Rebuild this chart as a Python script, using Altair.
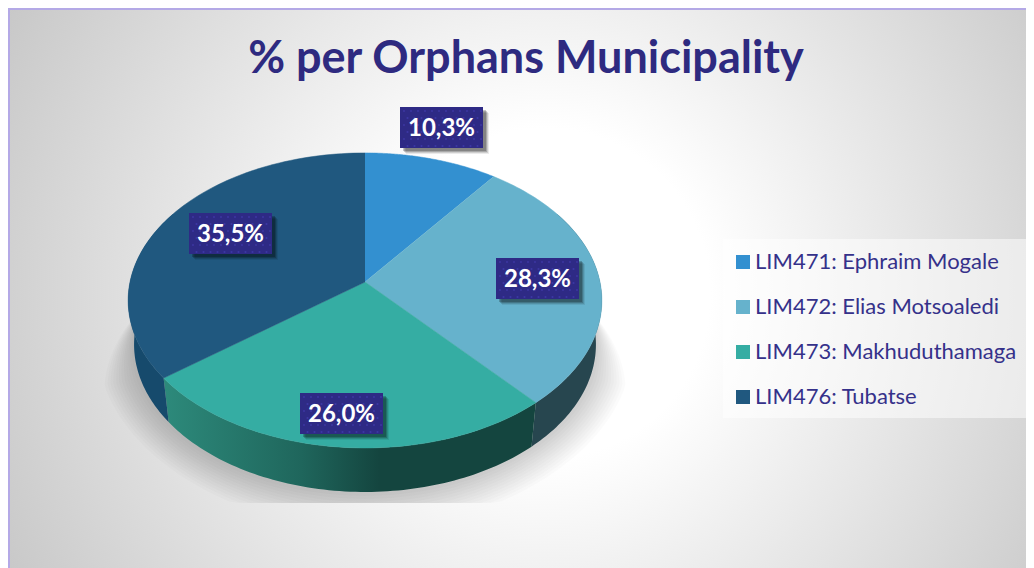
import math
import altair as alt
import pandas as pd

names = ["LIM471: Ephraim Mogale", "LIM472: Elias Motsoaledi", "LIM473: Makhuduthamaga", "LIM476: Tubatse"]
values = [10.3, 28.3, 26.0, 35.5]
labels = ["10,3%", "28,3%", "26,0%", "35,5%"]
colors = ["#3390D0", "#66B2CC", "#35ADA3", "#20587F"]
title = "% per Orphans Municipality"

NAVY = "#2E2A85"
FONT = "Lato"
X_DOM = [8, 1026]
Y_DOM = [568, 8]


def X(f="x"):
    return alt.X(f"{f}:Q", scale=alt.Scale(domain=X_DOM, nice=False, zero=False), axis=None)


def Y(f="y"):
    return alt.Y(f"{f}:Q", scale=alt.Scale(domain=Y_DOM, nice=False, zero=False), axis=None)


# perspective view of the flat disc; theta is clockwise from 12 o'clock
def top(theta):
    t = math.radians(theta)
    u, v = math.sin(t), -math.cos(t)
    d = 1 - 0.125 * v
    return 365 + 235 * u / d, 282 + 145.2 * v / d


def bottom(theta):
    x, y = top(theta)
    return 365 + (x - 365) * 0.975, y + 44


def steps(a, b, n=80):
    return [a + (b - a) * i / n for i in range(n + 1)]


total = sum(values)
edges = [0]
for val in values:
    edges.append(edges[-1] + 360 * val / total)

# top faces
face = []
for k, nm in enumerate(names):
    pts = [(365, 282)] + [top(t) for t in steps(edges[k], edges[k + 1])]
    face += [{"name": nm, "i": i, "x": p[0], "y": p[1]} for i, p in enumerate(pts)]

color_scale = alt.Scale(domain=names, range=colors)
faces = alt.Chart(pd.DataFrame(face)).mark_line(strokeWidth=0.5).encode(
    x=X(), y=Y(), order="i:Q",
    fill=alt.Fill("name:N", scale=color_scale, sort=names, legend=alt.Legend(
        title=None, orient="none", legendX=724, legendY=243, symbolType="square",
        symbolSize=196, symbolStrokeWidth=0, labelFont=FONT, labelFontSize=22, labelColor="#35318A",
        labelLimit=320, rowPadding=23, labelOffset=1, symbolOffset=0, padding=0,
    )),
    stroke=alt.Stroke("name:N", scale=color_scale, legend=None),
)


def wall(a, b, **mark):
    pts = [top(t) for t in steps(a, b)] + [bottom(t) for t in steps(b, a)]
    df = pd.DataFrame([{"i": i, "x": p[0], "y": p[1]} for i, p in enumerate(pts)])
    return alt.Chart(df).mark_line(strokeWidth=0, **mark).encode(x=X(), y=Y(), order="i:Q")


walls = [
    wall(60, edges[2], fill="#27464F"),
    wall(edges[2], edges[3], fill=alt.Gradient(
        gradient="linear", x1=0, x2=1, y1=0, y2=0,
        stops=[alt.GradientStop(offset=0, color="#2D8A7B"),
               alt.GradientStop(offset=0.37, color="#1F665C"),
               alt.GradientStop(offset=0.58, color="#14453F"),
               alt.GradientStop(offset=1, color="#14453F")])),
    wall(edges[3], 300, fill="#164A6C"),
]

# soft floor shadow
shadow_layers = []
for e in range(4, 40, 3):
    pts = []
    for t in steps(70, 290, 120):
        x, y = bottom(t)
        dx, dy = x - 365, y - 345
        n = math.hypot(dx, dy) or 1
        w = min(1, max(0, (y - 310) / 70))
        pts.append((x + dx / n * e * w, min(503, y + dy / n * e * w)))
    df = pd.DataFrame([{"i": i, "x": p[0], "y": p[1]} for i, p in enumerate(pts)])
    shadow_layers.append(
        alt.Chart(df).mark_line(strokeWidth=0, fill="#000000", fillOpacity=0.017).encode(x=X(), y=Y(), order="i:Q")
    )

# background
bg = pd.DataFrame([{"x": 9, "x2": 1040, "y": 9, "y2": 578}])
background = alt.Chart(bg).mark_rect(
    stroke="#B4A9E6", strokeWidth=2,
    fill=alt.Gradient(gradient="radial", x1=0.52, y1=0.5, x2=0.52, y2=0.5, r1=0.16, r2=0.69,
                      stops=[alt.GradientStop(offset=0, color="#FFFFFF"),
                             alt.GradientStop(offset=1, color="#BBBBBB")]),
).encode(x=X(), x2="x2:Q", y=Y(), y2="y2:Q")

panel = alt.Chart(pd.DataFrame([{"x": 723, "x2": 1030, "y": 239, "y2": 418}])).mark_rect(
    fill="#FFFFFF", fillOpacity=0.5).encode(x=X(), x2="x2:Q", y=Y(), y2="y2:Q")

# data labels
box_left = [400, 496, 300, 189]
box_top = [107, 258, 393, 213]
box = pd.DataFrame({
    "label": labels,
    "x": box_left, "x2": [v + 83 for v in box_left],
    "y": box_top, "y2": [v + 41 for v in box_top],
    "cx": [v + 41.5 for v in box_left], "cy": [v + 22 for v in box_top],
})
shade = []
for off, op in [(6, 0.08), (5, 0.12), (4, 0.18), (3, 0.22)]:
    d = box.copy()
    for c in ["x", "x2", "y", "y2"]:
        d[c] = d[c] + off
    shade.append(alt.Chart(d).mark_rect(fill="#000000", fillOpacity=op).encode(x=X(), x2="x2:Q", y=Y(), y2="y2:Q"))
boxes = alt.Chart(box).mark_rect(fill=NAVY).encode(x=X(), x2="x2:Q", y=Y(), y2="y2:Q")

# dotted pattern fill of the label boxes
dots = []
for l, t in zip(box_left, box_top):
    for r in range(6):
        for c in range(12):
            dots.append({"x": l + 4 + c * 7 + (3.5 if r % 2 else 0), "y": t + 4 + r * 7})
dots = [d for d in dots if any(l + 1 < d["x"] < l + 82 and t < d["y"] < t + 41 for l, t in zip(box_left, box_top))]
dot_marks = alt.Chart(pd.DataFrame(dots)).mark_square(size=3, color="#3E39A6", opacity=1).encode(x=X(), y=Y())

texts = alt.Chart(box).mark_text(font=FONT, fontWeight="bold", fontSize=24, color="#FFFFFF", baseline="middle").encode(
    x=X("cx"), y=Y("cy"), text="label:N")

chart = alt.layer(
    background, *shadow_layers, *walls, faces, *shade, boxes, dot_marks, texts, panel,
).properties(
    width=1018, height=560, padding=0,
    autosize=alt.AutoSizeParams(type="none"),
    title=alt.TitleParams(title, font=FONT, fontSize=45, fontWeight="bold", color="#2E2A80",
                          anchor="middle", offset=-74, dx=9),
).configure_view(stroke=None)

chart.save("out.html", embed_options={"renderer": "svg", "actions": False})
